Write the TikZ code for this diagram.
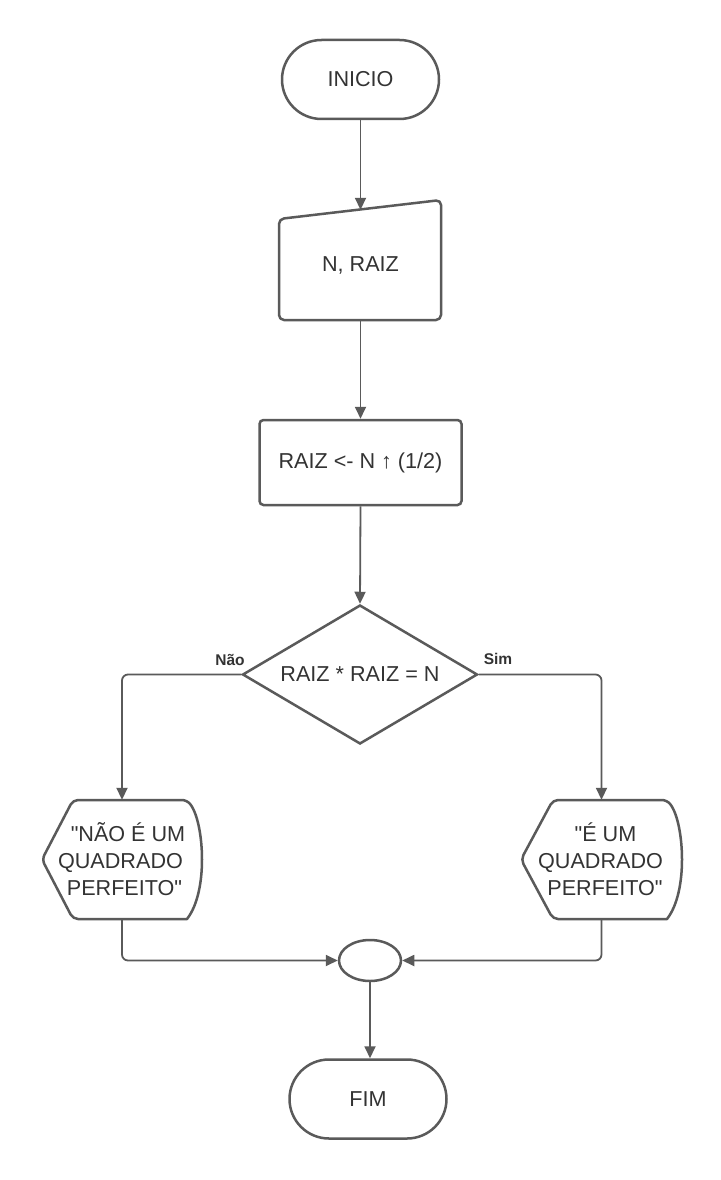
\documentclass[tikz,border=0pt]{standalone}
\usepackage{fontspec}
\setmainfont{Liberation Sans}
\newfontfamily\libsans{Liberation Sans}
\usetikzlibrary{arrows.meta,shapes.geometric,shapes.misc}
\definecolor{ln}{HTML}{5A5A5A}
\definecolor{tx}{HTML}{333333}
\begin{document}
\begin{tikzpicture}[x=1pt,y=-1pt,
  mainfont/.style={font=\libsans\fontsize{21.6}{27}\selectfont},
  shp/.style={draw=ln,line width=2.5pt,fill=white,text=tx,mainfont},
  shpline/.style={draw=ln,line width=2.5pt,fill=white,line join=round},
  term/.style={shp,rounded rectangle,minimum width=157pt,minimum height=79pt,inner sep=0pt},
  proc/.style={shp,rectangle,rounded corners=4pt,minimum width=202pt,minimum height=85pt},
  dec/.style={shp,diamond,minimum width=235pt,minimum height=139pt,inner sep=0pt,shape aspect=1.69},
  txt/.style={text=tx,mainfont,align=center,inner sep=0pt},
  conn/.style={draw=ln,line width=1.8pt,rounded corners=6pt,-{Triangle[length=12pt,width=11pt]}},
  lbl/.style={text=tx,font=\libsans\bfseries\fontsize{15.5}{18}\selectfont,inner sep=0pt}]
\useasboundingbox[fill=white] (0,0) rectangle (720,1180);

% terminators
\node[term] (ini) at (360.5,79.5) {INICIO};
\node[term] (fim) at (368,1099) {FIM};

% manual input
\draw[shpline,rounded corners=5pt] (279,219) -- (441,200) -- (441,320) -- (279,320) -- cycle;
\node[txt,minimum width=162pt,minimum height=110pt] (inp) at (360.5,265) {N, RAIZ};

% process
\node[proc] (proc) at (360.5,462.5) {RAIZ <- N ↑ (1/2)};

% decision
\node[dec] (dia) at (360,674.5) {RAIZ * RAIZ = N};

% displays
\draw[shpline,rounded corners=5pt] (42,859.5) -- (73,800) -- (187,800)
  [sharp corners] .. controls (198,814) and (202,838) .. (202,859.5)
  .. controls (202,881) and (198,905) .. (187,919) [rounded corners=5pt] -- (73,919) -- cycle;
\node[txt,minimum width=160pt,minimum height=119pt] (no) at (122,859.5)
  {\hspace*{12pt}"NÃO É UM\\\hbox{QUADRADO\kern3pt}\\\hspace*{5pt}PERFEITO"};

\draw[shpline,rounded corners=5pt] (521,859.5) -- (553,800) -- (667,800)
  [sharp corners] .. controls (678,814) and (682,838) .. (682,859.5)
  .. controls (682,881) and (678,905) .. (667,919) [rounded corners=5pt] -- (553,919) -- cycle;
\node[txt,minimum width=161pt,minimum height=119pt] (yes) at (601.5,859.5)
  {\hspace*{8pt}"É UM\\\hbox{QUADRADO\kern2pt}\\\hspace*{7pt}PERFEITO"};

% connector circle
\node[shp,ellipse,minimum width=62pt,minimum height=41pt,inner sep=0pt] (circ) at (370,960.5) {};

% labels
\node[lbl] (nao) at (230,660) {Não};
\node[lbl] (sim) at (498,659) {Sim};

% connectors
\draw[conn] (ini.south) -- (inp.north);
\draw[conn] (inp.south) -- (proc.north);
\draw[conn] (proc.south) -- (dia.north);
\draw[conn] (dia.west) -| (no.north);
\draw[conn] (dia.east) -| (yes.north);
\draw[conn] (no.south) |- (circ.west);
\draw[conn] (yes.south) |- (circ.east);
\draw[conn] (circ.south) -- (circ.south |- fim.north);
\end{tikzpicture}
\end{document}
